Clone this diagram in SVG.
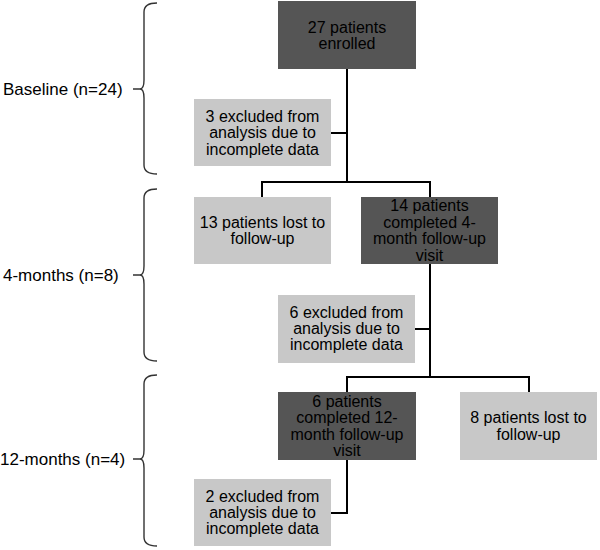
<svg xmlns="http://www.w3.org/2000/svg" width="600" height="550" viewBox="0 0 600 550">
<style>
.dark{fill:#555555;}
.light{fill:#c8c8c8;}
text{font-family:"Liberation Sans",Arial,sans-serif;fill:#000;}
.bt{font-size:16px;text-anchor:middle;}
.lb{font-size:17px;}
.con{stroke:#000;stroke-width:2;fill:none;}
.brace{stroke:#333;stroke-width:1.4;fill:none;}
</style>
<rect width="600" height="550" fill="#fff"/>
<g id="connectors">
<path class="con" d="M347,69 V182 M331,133 H347 M262,197 V182 H430 V197 M430,264 V377 M414,329 H430 M347,392 V377 H529 V392 M347,460 V513 H331"/>
</g>
<g id="brace-baseline">
<path class="brace" d="M157,3 Q144,3 144,12 V80 Q144,89 140,89 Q144,89 144,98 V165 Q144,174 157,174 M133,89 H140"/>
<text class="lb" x="3" y="95">Baseline (n=24)</text>
</g>
<g id="brace-4months">
<path class="brace" d="M157,189 Q144,189 144,198 V266 Q144,275 140,275 Q144,275 144,284 V352 Q144,361 157,361 M133,275 H140"/>
<text class="lb" x="3" y="281">4-months (n=8)</text>
</g>
<g id="brace-12months">
<path class="brace" d="M157,375 Q144,375 144,384 V450 Q144,459 140,459 Q144,459 144,468 V537 Q144,546 157,546 M133,459 H140"/>
<text class="lb" x="0" y="465">12-months (n=4)</text>
</g>
<g id="enrolled">
<rect class="dark" x="278" y="1" width="138" height="68"/>
<text class="bt" x="347" y="33">27 patients</text>
<text class="bt" x="347" y="49">enrolled</text>
</g>
<g id="excluded-baseline">
<rect class="light" x="194" y="99" width="137" height="67"/>
<text class="bt" x="262.5" y="122">3 excluded from</text>
<text class="bt" x="262.5" y="138">analysis due to</text>
<text class="bt" x="262.5" y="155">incomplete data</text>
</g>
<g id="lost-4months">
<rect class="light" x="194" y="197" width="137" height="67"/>
<text class="bt" x="262.5" y="228">13 patients lost to</text>
<text class="bt" x="262.5" y="244">follow-up</text>
</g>
<g id="completed-4months">
<rect class="dark" x="361" y="197" width="137" height="67"/>
<text class="bt" x="429.5" y="211">14 patients</text>
<text class="bt" x="429.5" y="228">completed 4-</text>
<text class="bt" x="429.5" y="244">month follow-up</text>
<text class="bt" x="429.5" y="261">visit</text>
</g>
<g id="excluded-4months">
<rect class="light" x="278" y="295" width="137" height="68"/>
<text class="bt" x="346.5" y="318">6 excluded from</text>
<text class="bt" x="346.5" y="334">analysis due to</text>
<text class="bt" x="346.5" y="350">incomplete data</text>
</g>
<g id="completed-12months">
<rect class="dark" x="278" y="392" width="138" height="68"/>
<text class="bt" x="347" y="407">6 patients</text>
<text class="bt" x="347" y="423">completed 12-</text>
<text class="bt" x="347" y="440">month follow-up</text>
<text class="bt" x="347" y="456">visit</text>
</g>
<g id="lost-12months">
<rect class="light" x="460" y="392" width="137" height="68"/>
<text class="bt" x="528.5" y="423">8 patients lost to</text>
<text class="bt" x="528.5" y="440">follow-up</text>
</g>
<g id="excluded-12months">
<rect class="light" x="194" y="479" width="137" height="67"/>
<text class="bt" x="262.5" y="502">2 excluded from</text>
<text class="bt" x="262.5" y="518">analysis due to</text>
<text class="bt" x="262.5" y="534">incomplete data</text>
</g>
</svg>
